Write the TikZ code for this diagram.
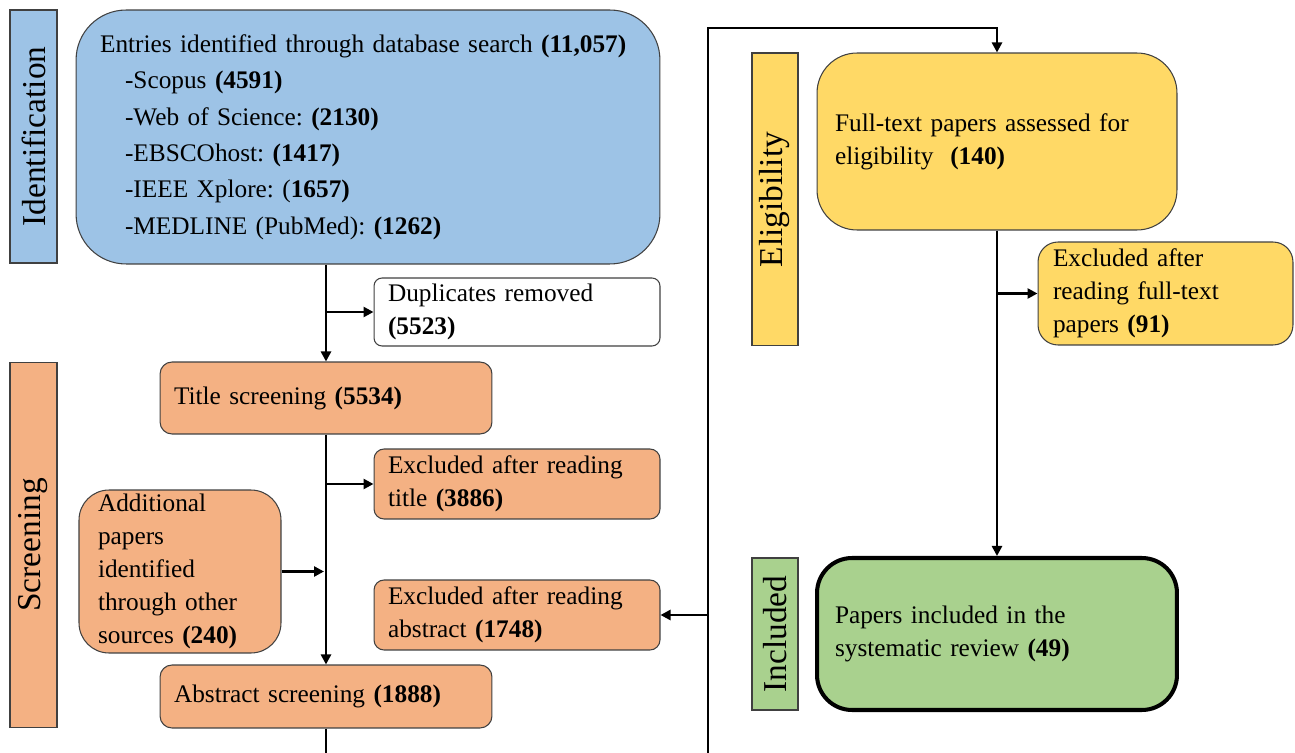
\documentclass[tikz,border=0pt]{standalone}
\usepackage{fontspec}
\setmainfont{Liberation Serif}
\usepackage{tikz}
\usetikzlibrary{arrows.meta, positioning, calc}
\definecolor{idBlue}{HTML}{9DC3E6}
\definecolor{scrOrange}{HTML}{F4B183}
\definecolor{eligYellow}{HTML}{FFD966}
\definecolor{inclGreen}{HTML}{A9D18E}
\definecolor{edgeGray}{HTML}{404040}
\frenchspacing

\begin{document}
\begin{tikzpicture}[x=0.02cm, y=-0.02cm,
    box/.style={draw=edgeGray, line width=0.6pt, align=left, inner ysep=0pt,
        font=\fontsize{14.4}{18.7}\selectfont},
    bar/.style={draw=edgeGray, line width=0.6pt, rotate=90, inner sep=0pt,
        font=\fontsize{19}{22}\selectfont},
    line/.style={line width=1.6pt},
    arr/.style={line width=1.6pt, -{Triangle[length=0.2cm, width=0.2cm]}}]
    \useasboundingbox (0,0) rectangle (1295,753);

    % Stage bars
    \node[bar, fill=idBlue, minimum width=5.06cm, minimum height=0.94cm] (idbar) at (33.5,136.5) {Identification};
    \node[bar, fill=scrOrange, minimum width=7.32cm, minimum height=0.94cm] (scrbar) at (33.5,545) {Screening};
    \node[bar, fill=eligYellow, minimum width=5.86cm, minimum height=0.92cm] (eligbar) at (775,199.5) {Eligibility};
    \node[bar, fill=inclGreen, minimum width=3.04cm, minimum height=0.92cm] (inclbar) at (775,634) {Included};

    % Identification
    \node[box, fill=idBlue, rounded corners=1cm, minimum height=5.08cm, inner xsep=0.48cm, text width=10.72cm,
        font=\fontsize{14.4}{20.7}\selectfont] (entries) at (368,137)
        {Entries identified through database search \textbf{(11,057)}\\
         \hspace*{0.5cm}-Scopus \textbf{(4591)}\\
         \hspace*{0.5cm}-Web of Science: \textbf{(2130)}\\
         \hspace*{0.5cm}-EBSCOhost: \textbf{(1417)}\\
         \hspace*{0.5cm}-IEEE Xplore: (\textbf{1657)}\\
         \hspace*{0.5cm}-MEDLINE (PubMed): \textbf{(1262)}};
    \node[box, fill=white, rounded corners=0.16cm, minimum height=1.36cm, inner xsep=0.28cm, text width=5.16cm] (dups) at (517,312)
        {Duplicates removed\\\textbf{(5523)}};

    % Screening
    \node[box, fill=scrOrange, rounded corners=0.24cm, minimum height=1.44cm, inner xsep=0.28cm, text width=6.08cm] (title) at (326,398)
        {Title screening \textbf{(5534)}};
    \node[box, fill=scrOrange, rounded corners=0.2cm, minimum height=1.4cm, inner xsep=0.28cm, text width=5.16cm] (extitle) at (517,484)
        {Excluded after reading\\title \textbf{(3886)}};
    \node[box, fill=scrOrange, rounded corners=0.6cm, minimum height=3.26cm, inner xsep=0.38cm, text width=3.28cm] (extra) at (180,571.5)
        {Additional\\papers\\identified\\through other\\sources \textbf{(240)}};
    \node[box, fill=scrOrange, rounded corners=0.2cm, minimum height=1.4cm, inner xsep=0.28cm, text width=5.16cm] (exabs) at (517,615)
        {Excluded after reading\\abstract \textbf{(1748)}};
    \node[box, fill=scrOrange, rounded corners=0.24cm, minimum height=1.26cm, inner xsep=0.28cm, text width=6.08cm] (abstract) at (326,696.5)
        {Abstract screening \textbf{(1888)}};

    % Eligibility and inclusion
    \node[box, fill=eligYellow, rounded corners=0.8cm, minimum height=3.54cm, inner xsep=0.36cm, text width=6.48cm] (fulltext) at (997,141.5)
        {Full-text papers assessed for\\eligibility~ \textbf{(140)}};
    \node[box, fill=eligYellow, rounded corners=0.4cm, minimum height=2.06cm, inner xsep=0.3cm, text width=4.5cm] (exfull) at (1165.5,293.5)
        {Excluded after\\reading full-text\\papers \textbf{(91)}};
    \node[box, fill=inclGreen, draw=black, line width=2.3pt, rounded corners=0.7cm, minimum height=3.04cm, inner xsep=0.36cm, text width=6.48cm] (incl) at (997,634)
        {Papers included in the\\systematic review \textbf{(49)}};

    % Flow lines
    \coordinate (loopbot) at (708,753);
    \coordinate (looptop) at (708,28);
    \draw[arr] (title.north |- entries.south) -- (title.north);
    \draw[arr] (title.north |- dups.west) -- (dups.west);
    \draw[arr] (title.south) -- (abstract.north);
    \draw[arr] (title.south |- extitle.west) -- (extitle.west);
    \draw[arr] (extra.east) -- ($(extra.east -| title.south)+(-2,0)$);
    \draw[line] (abstract.south) -- (abstract.south |- loopbot);
    \draw[arr] (loopbot) -- (looptop) -| (fulltext.north);
    \draw[arr] (looptop |- exabs.east) -- (exabs.east);
    \draw[arr] (fulltext.south) -- (incl.north);
    \draw[arr] (fulltext.south |- exfull.west) -- (exfull.west);
\end{tikzpicture}
\end{document}
